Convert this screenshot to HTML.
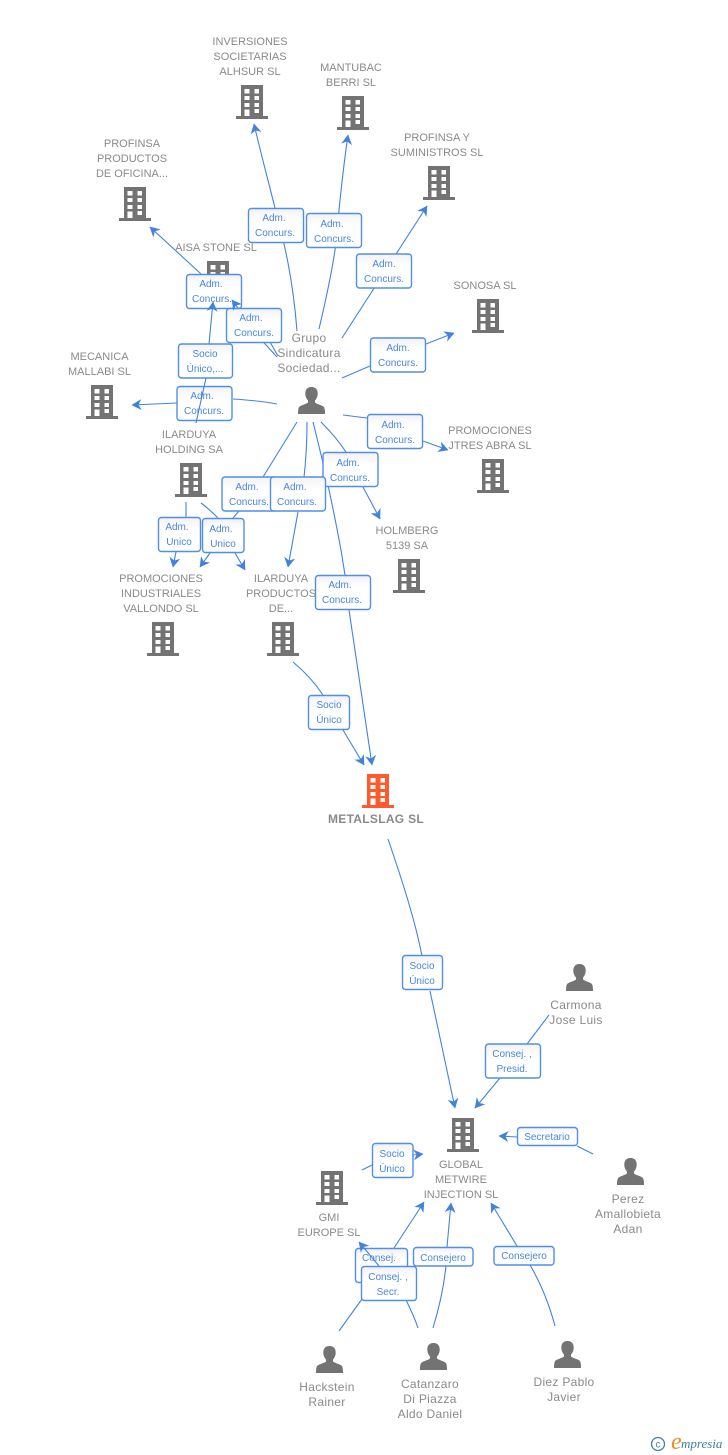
<!DOCTYPE html>
<html>
<head>
<meta charset="utf-8">
<style>
html,body{margin:0;padding:0;background:#fff;}
body{width:728px;height:1455px;overflow:hidden;position:relative;}
svg{position:absolute;left:0;top:0;}
.l{font-family:"Liberation Sans",sans-serif;font-size:11px;fill:#8a8a8a;text-anchor:middle;}
.p{font-family:"Liberation Sans",sans-serif;font-size:12px;fill:#8a8a8a;text-anchor:middle;letter-spacing:.3px;}
.b{font-family:"Liberation Sans",sans-serif;font-size:10px;fill:#4a86e0;text-anchor:middle;}
.e{fill:none;stroke:#4183e0;stroke-width:1.1;}
.box{fill:url(#g);stroke:#4f8fe8;stroke-width:1.4;}
</style>
</head>
<body>
<svg width="728" height="1455" viewBox="0 0 728 1455" xmlns="http://www.w3.org/2000/svg">
<defs>
<linearGradient id="g" x1="0" y1="0" x2="0" y2="1"><stop offset="0" stop-color="#f2f2f4"/><stop offset=".35" stop-color="#ffffff"/><stop offset="1" stop-color="#ffffff"/></linearGradient>
<marker id="a" markerUnits="userSpaceOnUse" markerWidth="14" markerHeight="14" refX="10" refY="7" orient="auto">
<path d="M10.500,7 L0.500,1.500 L3.500,7 L0.500,12.500 Z" fill="#3f82e0"/>
</marker>
<symbol id="bd" width="32" height="34" viewBox="0 0 32 34" overflow="visible">
<path fill-rule="evenodd" d="M5 0H27V31H32V34H0V31H5ZM8.500 4V8.500H13.500V4ZM18.500 4V8.500H23V4ZM8.500 11V15H13.500V11ZM18.500 11V15H23V11ZM8.500 18V22H13.500V18ZM18.500 18V22H23V18ZM18.500 24V28H23V24ZM8.500 24.500V31H13.500V24.500Z"/>
</symbol>
<symbol id="pr" width="27" height="27" viewBox="0 0 27 27" overflow="visible">
<path fill="#737373" d="M13.500 0C9 0 7.300 3 7.300 6.500C7.300 9.500 8.500 12 10 13.500V15.500C8 17.500 2 18 .8 20.500C0 22.500 0 25 0 27H27C27 25 27 22.500 26.200 20.500C25 18 19 17.500 17 15.500V13.500C18.500 12 19.700 9.500 19.700 6.500C19.700 3 18 0 13.500 0Z"/>
</symbol>
</defs>

<!-- buildings -->
<g fill="#737373">
<use href="#bd" x="236" y="85"/>
<use href="#bd" x="337" y="96"/>
<use href="#bd" x="119" y="187"/>
<use href="#bd" x="202" y="261"/>
<use href="#bd" x="423" y="166"/>
<use href="#bd" x="472" y="299"/>
<use href="#bd" x="86" y="385"/>
<use href="#bd" x="175" y="463"/>
<use href="#bd" x="477" y="459"/>
<use href="#bd" x="393" y="559"/>
<use href="#bd" x="147" y="622"/>
<use href="#bd" x="267" y="622"/>
<use href="#bd" x="447" y="1118"/>
<use href="#bd" x="316" y="1171"/>
</g>
<use href="#bd" x="362" y="774" fill="#ff5a2b"/>

<!-- persons -->
<use href="#pr" x="298" y="387"/>
<use href="#pr" x="566" y="964"/>
<use href="#pr" x="617" y="1158"/>
<use href="#pr" x="316" y="1346"/>
<use href="#pr" x="420" y="1343"/>
<use href="#pr" x="554" y="1341"/>

<!-- edges below boxes -->
<g class="e">
<path marker-end="url(#a)" d="M297,331 C293,280 285,245 275,208 C268,180 260,150 254,124"/>
<path marker-end="url(#a)" d="M319,329 C327,295 332,270 335,250 C338,225 340,190 348,135"/>
<path marker-end="url(#a)" d="M342,338 L427,206"/>
<path marker-end="url(#a)" d="M342,378 L370,366 M426,344 L454,333"/>
<path marker-end="url(#a)" d="M343,415 L367,418 M423,441 L448,450"/>
<path marker-end="url(#a)" d="M321,422 C332,433 340,443 346,452 M363,487 L380,519"/>
<path marker-end="url(#a)" d="M277,357 L200,273 L150,227"/>
<path d="M278,356 L270,342"/>
<path marker-end="url(#a)" d="M277,404 C262,401 248,400 233,399 M177,403 L132,405"/>
<path marker-end="url(#a)" d="M297,422 L263,477 M239,511 L233,518 M210,553 L200,567"/>
<path marker-end="url(#a)" d="M307,422 C307,445 306,460 304,477 M298,512 L288,567"/>
<path marker-end="url(#a)" d="M313,422 C320,450 330,490 341,550 L345,575 M349,610 L372,765"/>
<path marker-end="url(#a)" d="M293,662 C305,672 315,683 323,695 M343,730 L364,765"/>
<path marker-end="url(#a)" d="M388,839 C402,880 415,920 422,956 M430,991 L455,1108"/>
<path marker-end="url(#a)" d="M549,1015 L527,1044 M500,1078 L475,1108"/>
<path marker-end="url(#a)" d="M593,1154 L577,1146 M517,1137 L499,1136"/>
<path marker-end="url(#a)" d="M362,1170 L372,1165 M413,1155 L423,1154"/>
<path marker-end="url(#a)" d="M339,1331 L362,1299 M394,1248 L424,1202"/>
<path d="M418,1328 C414,1316 410,1308 406,1300"/>
<path marker-end="url(#a)" d="M433,1328 C440,1305 444,1285 446,1266 M447,1247 L451,1203"/>
<path marker-end="url(#a)" d="M555,1326 C548,1300 540,1282 530,1265 M517,1246 L491,1203"/>
<path marker-end="url(#a)" d="M186,502 L186,517 M176,552 L173,567"/>
<path d="M201,503 C208,508 213,513 218,518"/>
<path marker-end="url(#a)" d="M235,553 L245,570"/>
</g>

<!-- boxes -->
<rect class="box" x="248.500" y="208.500" width="55" height="34" rx="3"/>
<text class="b"><tspan x="274" y="221">Adm.</tspan><tspan x="275" y="236">Concurs.</tspan></text>
<rect class="box" x="306.500" y="213.500" width="55" height="34" rx="3"/>
<text class="b"><tspan x="332" y="227">Adm.</tspan><tspan x="334" y="242">Concurs.</tspan></text>
<rect class="box" x="356.500" y="254" width="55" height="34" rx="3"/>
<text class="b"><tspan x="384" y="267">Adm.</tspan><tspan x="384" y="282">Concurs.</tspan></text>
<rect class="box" x="370.500" y="338" width="55" height="34" rx="3"/>
<text class="b"><tspan x="398" y="351">Adm.</tspan><tspan x="398" y="366">Concurs.</tspan></text>
<rect class="box" x="367.500" y="414.500" width="55" height="34" rx="3"/>
<text class="b"><tspan x="393" y="428">Adm.</tspan><tspan x="395" y="443">Concurs.</tspan></text>
<rect class="box" x="323" y="452.500" width="55" height="34" rx="3"/>
<text class="b"><tspan x="348" y="466">Adm.</tspan><tspan x="350" y="481">Concurs.</tspan></text>
<rect class="box" x="186.500" y="274.500" width="55" height="34" rx="3"/>
<text class="b"><tspan x="211" y="287">Adm.</tspan><tspan x="212" y="302">Concurs.</tspan></text>
<rect class="box" x="226.500" y="308.500" width="55" height="34" rx="3"/>
<text class="b"><tspan x="251" y="321">Adm.</tspan><tspan x="254" y="336">Concurs.</tspan></text>
<rect class="box" x="178.500" y="344" width="54" height="34" rx="3"/>
<text class="b"><tspan x="205" y="357">Socio</tspan><tspan x="205" y="372">Único,...</tspan></text>
<rect class="box" x="177" y="386.500" width="55" height="34" rx="3"/>
<text class="b"><tspan x="202" y="399">Adm.</tspan><tspan x="204" y="414">Concurs.</tspan></text>
<rect class="box" x="222" y="477" width="55" height="34" rx="3"/>
<text class="b"><tspan x="247" y="490">Adm.</tspan><tspan x="249" y="505">Concurs.</tspan></text>
<rect class="box" x="270.500" y="477" width="55" height="34" rx="3"/>
<text class="b"><tspan x="295" y="490">Adm.</tspan><tspan x="297" y="505">Concurs.</tspan></text>
<rect class="box" x="158.500" y="517.500" width="42" height="34" rx="3"/>
<text class="b"><tspan x="177" y="530">Adm.</tspan><tspan x="179" y="545">Unico</tspan></text>
<rect class="box" x="202.500" y="518.500" width="41.500" height="34" rx="3"/>
<text class="b"><tspan x="221" y="532">Adm.</tspan><tspan x="223" y="547">Unico</tspan></text>
<rect class="box" x="315.500" y="575.500" width="55" height="34" rx="3"/>
<text class="b"><tspan x="340" y="588">Adm.</tspan><tspan x="342" y="603">Concurs.</tspan></text>
<rect class="box" x="308.500" y="695.500" width="41" height="34" rx="3"/>
<text class="b"><tspan x="329" y="708">Socio</tspan><tspan x="329" y="723">Único</tspan></text>
<rect class="box" x="402.500" y="955.500" width="40" height="34" rx="3"/>
<text class="b"><tspan x="422" y="969">Socio</tspan><tspan x="422" y="984">Único</tspan></text>
<rect class="box" x="485.500" y="1044" width="55" height="34" rx="3"/>
<text class="b"><tspan x="512" y="1057">Consej. ,</tspan><tspan x="512" y="1072">Presid.</tspan></text>
<rect class="box" x="517.500" y="1127.500" width="60" height="18" rx="3"/>
<text class="b" x="547" y="1140">Secretario</text>
<rect class="box" x="372.500" y="1143.500" width="40.500" height="34" rx="3"/>
<text class="b"><tspan x="392" y="1157">Socio</tspan><tspan x="392" y="1172">Único</tspan></text>
<rect class="box" x="355.500" y="1248.500" width="52" height="34" rx="3"/>
<text class="b"><tspan x="379" y="1261">Consej.</tspan></text>
<rect class="box" x="361.500" y="1266.500" width="55" height="34" rx="3"/>
<text class="b"><tspan x="388" y="1280">Consej. ,</tspan><tspan x="388" y="1295">Secr.</tspan></text>
<rect class="box" x="413.500" y="1247.500" width="59.500" height="18.500" rx="3"/>
<text class="b" x="443" y="1261">Consejero</text>
<rect class="box" x="494" y="1246.500" width="60" height="18.500" rx="3"/>
<text class="b" x="524" y="1259">Consejero</text>

<!-- edges above boxes -->
<g class="e">
<path d="M196,423 L206,378"/>
<path marker-end="url(#a)" d="M209,344 L213,302"/>
<path marker-end="url(#a)" d="M238,308 L232,300"/>
<path marker-end="url(#a)" d="M379,1266 L359,1242"/>
</g>

<!-- labels -->
<text class="l"><tspan x="250" y="45">INVERSIONES</tspan><tspan x="250" y="60">SOCIETARIAS</tspan><tspan x="250" y="75">ALHSUR SL</tspan></text>
<text class="l"><tspan x="351" y="71">MANTUBAC</tspan><tspan x="351" y="86">BERRI SL</tspan></text>
<text class="l"><tspan x="132" y="147">PROFINSA</tspan><tspan x="132" y="162">PRODUCTOS</tspan><tspan x="132" y="177">DE OFICINA...</tspan></text>
<text class="l" x="216" y="251">AISA STONE SL</text>
<text class="l"><tspan x="437" y="141">PROFINSA Y</tspan><tspan x="437" y="156">SUMINISTROS SL</tspan></text>
<text class="l" x="485" y="289">SONOSA SL</text>
<text class="l"><tspan x="99.500" y="360">MECANICA</tspan><tspan x="99.500" y="375">MALLABI SL</tspan></text>
<text class="l"><tspan x="189" y="438">ILARDUYA</tspan><tspan x="189" y="453">HOLDING SA</tspan></text>
<text class="l"><tspan x="490" y="434">PROMOCIONES</tspan><tspan x="490" y="449">JTRES ABRA SL</tspan></text>
<text class="l"><tspan x="407" y="534">HOLMBERG</tspan><tspan x="407" y="549">5139 SA</tspan></text>
<text class="l"><tspan x="161" y="582">PROMOCIONES</tspan><tspan x="161" y="597">INDUSTRIALES</tspan><tspan x="161" y="612">VALLONDO SL</tspan></text>
<text class="l"><tspan x="281" y="582">ILARDUYA</tspan><tspan x="281" y="597">PRODUCTOS</tspan><tspan x="281" y="612">DE...</tspan></text>
<text class="l" x="376" y="823" style="font-weight:bold;font-size:12px;letter-spacing:.3px">METALSLAG SL</text>
<text class="l"><tspan x="461" y="1168">GLOBAL</tspan><tspan x="461" y="1183">METWIRE</tspan><tspan x="461" y="1198">INJECTION SL</tspan></text>
<text class="l"><tspan x="329" y="1221">GMI</tspan><tspan x="329" y="1236">EUROPE SL</tspan></text>
<text class="p"><tspan x="309" y="342">Grupo</tspan><tspan x="309" y="357">Sindicatura</tspan><tspan x="309" y="372">Sociedad...</tspan></text>
<text class="p"><tspan x="576" y="1009">Carmona</tspan><tspan x="576" y="1024">Jose Luis</tspan></text>
<text class="p"><tspan x="628" y="1203">Perez</tspan><tspan x="628" y="1218">Amallobieta</tspan><tspan x="628" y="1233">Adan</tspan></text>
<text class="p"><tspan x="327" y="1391">Hackstein</tspan><tspan x="327" y="1406">Rainer</tspan></text>
<text class="p"><tspan x="430" y="1388">Catanzaro</tspan><tspan x="430" y="1403">Di Piazza</tspan><tspan x="430" y="1418">Aldo Daniel</tspan></text>
<text class="p"><tspan x="564" y="1386">Diez Pablo</tspan><tspan x="564" y="1401">Javier</tspan></text>

<!-- logo -->
<circle cx="658" cy="1444" r="6.500" fill="none" stroke="#4a7f9c" stroke-width="1.3"/>
<text x="658" y="1447.500" text-anchor="middle" style="font-family:'Liberation Sans',sans-serif;font-size:10px;fill:#4a7f9c;">c</text>
<text x="671" y="1449" style="font-family:'Liberation Serif',serif;font-style:italic;font-size:24px;fill:#f08a24;">e</text>
<text x="681" y="1448" style="font-family:'Liberation Serif',serif;font-style:italic;font-size:13px;fill:#3f7f9f;">mpresia</text>
</svg>
</body>
</html>
